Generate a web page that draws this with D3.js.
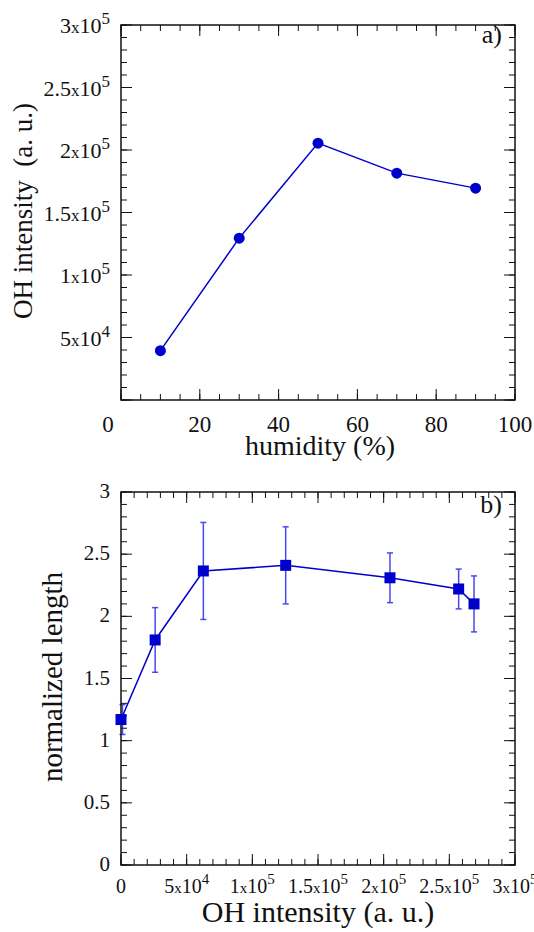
<!DOCTYPE html>
<html>
<head>
<meta charset="utf-8">
<script src="https://cdn.jsdelivr.net/npm/d3@7"></script>
</head>
<body style="margin:0; background:#fff">
<svg id="chart" width="534" height="932"></svg>
<script>
// panel a) OH intensity vs humidity
const humidity = [10, 30, 50, 70, 90];
const ohIntensity = [39500, 129500, 205500, 181500, 169500];

// panel b) normalized length vs OH intensity
const ohValues = [0, 26000, 62700, 125400, 204800, 257100, 268800];
const normLength = [1.17, 1.81, 2.365, 2.41, 2.31, 2.22, 2.10];
const normErr = [0.12, 0.26, 0.39, 0.31, 0.20, 0.16, 0.225];

// tick labels: [value, mantissa, exponent]
const sciTicksA = [[50000, "5", 4], [100000, "1", 5], [150000, "1.5", 5], [200000, "2", 5], [250000, "2.5", 5], [300000, "3", 5]];
const humidityTicks = [0, 20, 40, 60, 80, 100];
const sciTicksB = [[0, "0", null], [50000, "5", 4], [100000, "1", 5], [150000, "1.5", 5], [200000, "2", 5], [250000, "2.5", 5], [300000, "3", 5]];
const lengthTicks = [0, 0.5, 1, 1.5, 2, 2.5, 3];

const svg = d3.select("#chart");
const BLUE = "#0000cc";
const FONT = '"Liberation Serif"';

function txt(g, x, y, size) {
    return g.append("text").attr("x", x).attr("y", y)
        .style("font-family", FONT).style("font-size", size + "px")
        .attr("fill", "#111");
}

function sciLabel(sel, mant, exp, big, small) {
    sel.append("tspan").style("font-family", FONT).style("font-size", big + "px").text(mant);
    if (exp === null) return;
    sel.append("tspan").style("font-family", FONT).style("font-size", small + "px").text("x");
    sel.append("tspan").style("font-family", FONT).style("font-size", big + "px").text("10");
    sel.append("tspan").style("font-family", FONT).style("font-size", small + "px").attr("dy", -9).text(exp);
}

function frame(g, x, y, xMinor, xMajor, yMinor, yMajor) {
    const [x0, x1] = x.range();
    const [y0, y1] = y.range(); // y0 bottom, y1 top
    const t = g.append("g").attr("stroke", "#111").attr("stroke-width", 1);
    const tick = (vals, len) => {
        vals.forEach(v => {
            const px = x(v);
            t.append("line").attr("x1", px).attr("x2", px).attr("y1", y0).attr("y2", y0 - len);
            t.append("line").attr("x1", px).attr("x2", px).attr("y1", y1).attr("y2", y1 + len);
        });
    };
    const tickY = (vals, len) => {
        vals.forEach(v => {
            const py = y(v);
            t.append("line").attr("x1", x0).attr("x2", x0 + len).attr("y1", py).attr("y2", py);
            t.append("line").attr("x1", x1).attr("x2", x1 - len).attr("y1", py).attr("y2", py);
        });
    };
    tick(xMinor, 6); tick(xMajor, 11);
    tickY(yMinor, 6); tickY(yMajor, 11);
    g.append("rect")
        .attr("x", x0).attr("y", y1)
        .attr("width", x1 - x0).attr("height", y0 - y1)
        .attr("fill", "none").attr("stroke", "#111").attr("stroke-width", 1.5);
}

// ---------- panel a ----------
const xA = d3.scaleLinear().domain([0, 100]).range([121, 515]);
const yA = d3.scaleLinear().domain([0, 300000]).range([400, 25]);
const gA = svg.append("g");

const lineA = d3.line().x(d => xA(d[0])).y(d => yA(d[1]));
const ptsA = humidity.map((h, i) => [h, ohIntensity[i]]);
gA.append("path").attr("d", lineA(ptsA)).attr("fill", "none")
    .attr("stroke", BLUE).attr("stroke-width", 1.5);
gA.selectAll("circle").data(ptsA).enter().append("circle")
    .attr("cx", d => xA(d[0])).attr("cy", d => yA(d[1]))
    .attr("r", 5.5).attr("fill", BLUE);

frame(gA, xA, yA,
    d3.range(0, 101, 5), humidityTicks,
    d3.range(0, 300001, 10000), d3.range(0, 300001, 50000));

sciTicksA.forEach(([v, m, e]) => {
    const tx = txt(gA, 110, yA(v) + 8, 22).attr("text-anchor", "end");
    sciLabel(tx, m, e, 22, 17);
});
humidityTicks.forEach((v, i) => {
    txt(gA, xA(v) + (i === 0 ? -13 : 0), 432, 23).attr("text-anchor", "middle").text(v);
});
txt(gA, 320, 455, 28).attr("text-anchor", "middle").text("humidity (%)");
txt(gA, 0, 0, 27).attr("transform", "translate(32,211) rotate(-90)")
    .attr("text-anchor", "middle").attr("xml:space", "preserve")
    .text("OH intensity  (a. u.)");
txt(gA, 502, 43, 26).attr("text-anchor", "end").text("a)");

// ---------- panel b ----------
const xB = d3.scaleLinear().domain([0, 300000]).range([121, 515]);
const yB = d3.scaleLinear().domain([0, 3]).range([865, 492]);
const gB = svg.append("g");

const ptsB = ohValues.map((v, i) => [v, normLength[i], normErr[i]]);
const eb = gB.append("g").attr("stroke", "#4848ee").attr("stroke-width", 1.5).attr("fill", "none");
ptsB.forEach(d => {
    const px = xB(d[0]) + (d[0] === 0 ? 1.5 : 0);
    const top = yB(d[1] + d[2]), bot = yB(d[1] - d[2]);
    eb.append("line").attr("x1", px).attr("x2", px).attr("y1", top).attr("y2", bot);
    eb.append("line").attr("x1", px - 3).attr("x2", px + 3).attr("y1", top).attr("y2", top);
    eb.append("line").attr("x1", px - 3).attr("x2", px + 3).attr("y1", bot).attr("y2", bot);
});
const lineB = d3.line().x(d => xB(d[0])).y(d => yB(d[1]));
gB.append("path").attr("d", lineB(ptsB)).attr("fill", "none")
    .attr("stroke", BLUE).attr("stroke-width", 1.5);

frame(gB, xB, yB,
    d3.range(0, 300001, 10000), d3.range(0, 300001, 50000),
    d3.range(0, 3.001, 0.1), lengthTicks);

gB.selectAll("rect.pt").data(ptsB).enter().append("rect").attr("class", "pt")
    .attr("x", d => xB(d[0]) - 5.5).attr("y", d => yB(d[1]) - 5.5)
    .attr("width", 11).attr("height", 11).attr("fill", BLUE);

lengthTicks.forEach(v => {
    txt(gB, 110, yB(v) + 6, 21).attr("text-anchor", "end").text(v);
});
sciTicksB.forEach(([v, m, e]) => {
    const tx = txt(gB, xB(v), 893, 20).attr("text-anchor", "middle");
    sciLabel(tx, m, e, 20, 15);
});
txt(gB, 318, 922, 30).attr("text-anchor", "middle").text("OH intensity (a. u.)");
txt(gB, 0, 0, 29).attr("transform", "translate(62,677) rotate(-90)")
    .attr("text-anchor", "middle").text("normalized length");
txt(gB, 502, 513, 26).attr("text-anchor", "end").text("b)");
</script>
</body>
</html>
